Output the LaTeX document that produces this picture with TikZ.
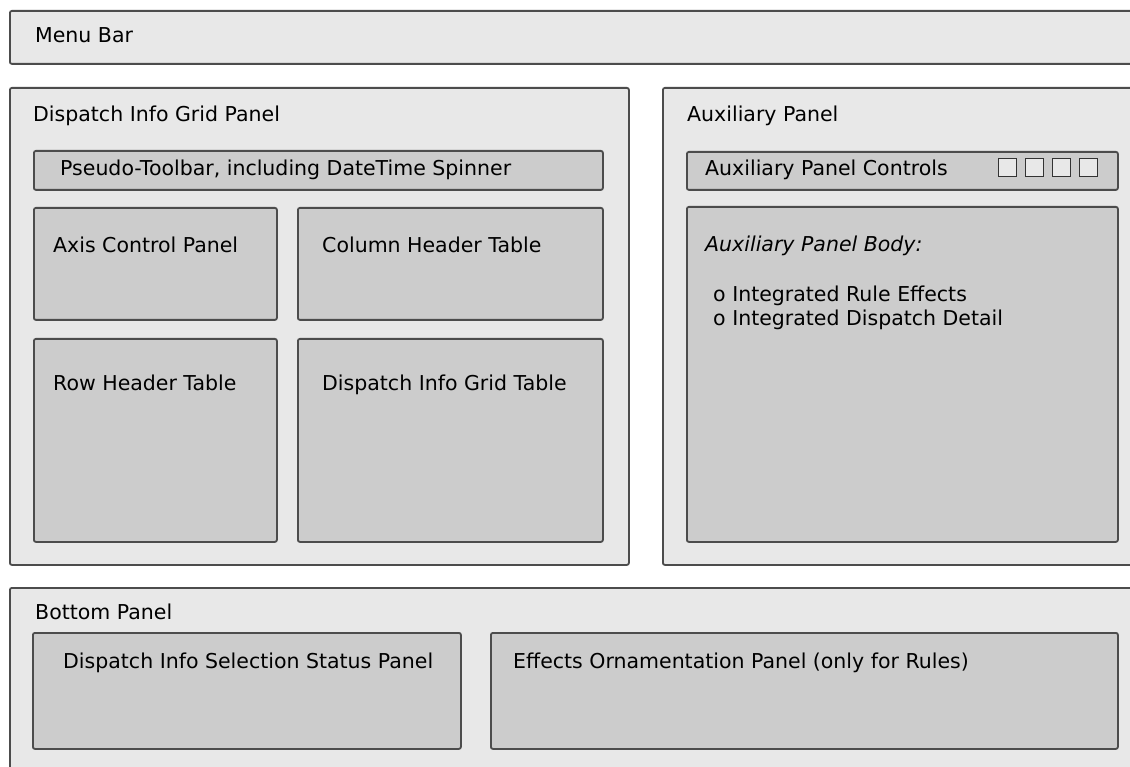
\documentclass[tikz,border=0pt]{standalone}
\usepackage{fontspec}
\setmainfont{DejaVu Sans}
\begin{document}
\begin{tikzpicture}[x=1pt,y=-1pt,
        panel/.style={draw=black!70,line width=1.8pt,rounded corners=2pt,anchor=north west,inner sep=0pt},
        outer/.style={panel,fill=black!9},
        inner/.style={panel,fill=black!20},
        lbl/.style={anchor=base west,inner sep=0pt,font=\fontsize{20.5}{24}\selectfont},
        btn/.style={draw=black!80,fill=black!9,line width=1.8pt,minimum size=18pt,inner sep=0pt}]
        \useasboundingbox[fill=white] (0,0) rectangle (1130,767);
        \clip (0,0) rectangle (1130,767);
        % outer panels
        \node[outer,minimum width=1140pt,minimum height=53pt] (menu) at (9,10) {};
        \node[outer,minimum width=619pt,minimum height=477pt] (grid) at (9,87) {};
        \node[outer,minimum width=480pt,minimum height=477pt] (aux) at (662,87) {};
        \node[outer,minimum width=1140pt,minimum height=200pt] (bottom) at (9,587) {};
        % inner panels
        \node[inner,minimum width=569pt,minimum height=39pt] (toolbar) at (33,150) {};
        \node[inner,minimum width=243pt,minimum height=112pt] (axis) at (33,207) {};
        \node[inner,minimum width=305pt,minimum height=112pt] (colhead) at (297,207) {};
        \node[inner,minimum width=243pt,minimum height=203pt] (rowhead) at (33,338) {};
        \node[inner,minimum width=305pt,minimum height=203pt] (gridtab) at (297,338) {};
        \node[inner,minimum width=431pt,minimum height=38pt] (auxctl) at (686,151) {};
        \node[inner,minimum width=431pt,minimum height=335pt] (auxbody) at (686,206) {};
        \node[inner,minimum width=428pt,minimum height=116pt] (selstat) at (32,632) {};
        \node[inner,minimum width=627pt,minimum height=116pt] (effects) at (490,632) {};
        \foreach \i in {1,...,4}
            \node[btn] (sq\i) at (1007.5+27*\i-27,167.5) {};
        % labels
        \node[lbl] (menu-t) at (35,43) {Menu Bar};
        \node[lbl] (grid-t) at (33,122) {Dispatch Info Grid Panel};
        \node[lbl] (toolbar-t) at (60,176) {Pseudo-Toolbar, including DateTime Spinner};
        \node[lbl] (axis-t) at (53,253) {Axis Control Panel};
        \node[lbl] (colhead-t) at (322,253) {Column Header Table};
        \node[lbl] (rowhead-t) at (53,390) {Row Header Table};
        \node[lbl] (gridtab-t) at (322,390) {Dispatch Info Grid Table};
        \node[lbl] (aux-t) at (687,122) {Auxiliary Panel};
        \node[lbl] (auxctl-t) at (705,176) {Auxiliary Panel Controls};
        \node[lbl] (auxbody-t) at (705,252) {\itshape Auxiliary Panel Body:};
        \node[lbl] (rule-t) at (713,302) {o Integrated Rule Effects};
        \node[lbl] (detail-t) at (713,326) {o Integrated Dispatch Detail};
        \node[lbl] (bottom-t) at (35,619) {Bottom Panel};
        \node[lbl] (selstat-t) at (63,668) {Dispatch Info Selection Status Panel};
        \node[lbl] (effects-t) at (513,668) {Effects Ornamentation Panel (only for Rules)};
    \end{tikzpicture}
\end{document}
